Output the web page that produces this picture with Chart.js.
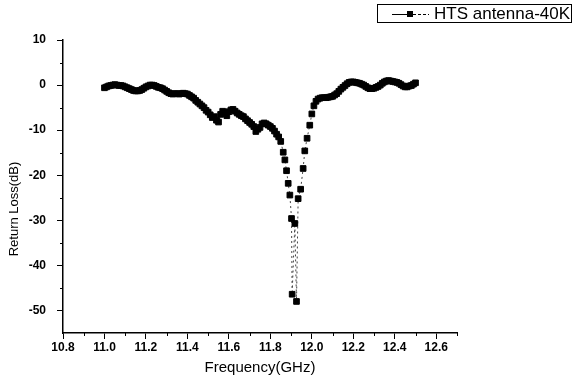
<!DOCTYPE html>
<html>
<head>
<meta charset="utf-8">
<script src="https://cdn.jsdelivr.net/npm/chart.js@4/dist/chart.umd.min.js"></script>
<style>
  body { margin: 0; background: #fff; }
  canvas { display: block; }
</style>
</head>
<body>
<canvas id="mychart" width="576" height="383"></canvas>
<script>
const freqLow = [
  11.00, 11.01, 11.02, 11.03, 11.04, 11.05, 11.06, 11.07, 11.08, 11.09,
  11.10, 11.11, 11.12, 11.13, 11.14, 11.15, 11.16, 11.17, 11.18, 11.19,
  11.20, 11.21, 11.22, 11.23, 11.24, 11.25, 11.26, 11.27, 11.28, 11.29,
  11.30, 11.31, 11.32, 11.33, 11.34, 11.35, 11.36, 11.37, 11.38, 11.39,
  11.40, 11.41, 11.42, 11.43, 11.44, 11.45, 11.46, 11.47, 11.48, 11.49,
  11.50, 11.51, 11.52, 11.53, 11.54, 11.55, 11.56, 11.57, 11.58, 11.59,
  11.60, 11.61, 11.62, 11.63, 11.64, 11.65, 11.66, 11.67, 11.68, 11.69,
  11.70, 11.71, 11.72, 11.73, 11.74, 11.75, 11.76, 11.77, 11.78, 11.79,
  11.80, 11.81, 11.82, 11.83, 11.84
];
const lossLow = [
  -0.6, -0.4, -0.2, -0.1, 0.0, 0.1, 0.0, -0.1, -0.1, -0.2,
  -0.4, -0.6, -0.8, -1.0, -1.2, -1.3, -1.3, -1.2, -1.0, -0.7,
  -0.4, -0.2, 0.0, 0.0, -0.1, -0.3, -0.5, -0.6, -0.8, -1.1,
  -1.4, -1.7, -1.9, -2.0, -1.9, -1.9, -2.0, -1.9, -1.8, -1.9,
  -2.0, -2.3, -2.6, -2.9, -3.4, -3.8, -4.2, -4.6, -5.0, -5.6,
  -6.0, -6.6, -7.2, -7.0, -7.8, -8.2, -6.5, -5.8, -6.2, -6.8,
  -5.9, -5.5, -5.4, -5.8, -6.2, -6.5, -6.8, -7.0, -7.5, -7.9,
  -8.3, -8.7, -9.2, -10.3, -9.8, -9.4, -8.6, -8.4, -8.6, -8.9,
  -9.2, -9.6, -10.2, -10.9, -11.5
];
const freqDip = [
  11.850, 11.862, 11.870, 11.878, 11.886, 11.894, 11.902, 11.905, 11.918, 11.926,
  11.934, 11.946, 11.958, 11.966, 11.977, 11.990, 12.000
];
const lossDip = [
  -12.5, -14.9, -16.6, -19.0, -21.8, -24.4, -29.6, -46.4, -30.7, -48.0,
  -25.2, -23.1, -18.5, -14.6, -11.8, -8.9, -6.4
];
const freqHigh = [
  12.01, 12.02, 12.03, 12.04, 12.05, 12.06, 12.07, 12.08, 12.09, 12.10,
  12.11, 12.12, 12.13, 12.14, 12.15, 12.16, 12.17, 12.18, 12.19, 12.20,
  12.21, 12.22, 12.23, 12.24, 12.25, 12.26, 12.27, 12.28, 12.29, 12.30,
  12.31, 12.32, 12.33, 12.34, 12.35, 12.36, 12.37, 12.38, 12.39, 12.40,
  12.41, 12.42, 12.43, 12.44, 12.45, 12.46, 12.47, 12.48, 12.49, 12.50
];
const lossHigh = [
  -4.6, -3.6, -3.1, -2.9, -2.8, -2.8, -2.8, -2.7, -2.6, -2.5,
  -2.2, -1.9, -1.4, -0.9, -0.5, -0.1, 0.3, 0.6, 0.7, 0.7,
  0.6, 0.5, 0.4, 0.2, 0.0, -0.3, -0.6, -0.8, -0.8, -0.7,
  -0.5, -0.3, 0.0, 0.4, 0.7, 0.9, 1.0, 0.9, 0.8, 0.7,
  0.6, 0.4, 0.1, -0.2, -0.4, -0.4, -0.2, -0.1, 0.2, 0.5
];
const seriesLabel = "HTS antenna-40K";
const xTicks = [10.8, 11.0, 11.2, 11.4, 11.6, 11.8, 12.0, 12.2, 12.4, 12.6];
const yTicks = [10, 0, -10, -20, -30, -40, -50];

const font = "'Liberation Sans', Arial, sans-serif";

function buildPoints() {
  let freqs = freqLow.concat(freqDip, freqHigh);
  let losses = lossLow.concat(lossDip, lossHigh);
  return freqs.map((f, i) => ({ x: f, y: losses[i] }));
}

// short unlabelled ticks between the major ones
const minorTicks = {
  id: "minorTicks",
  afterDraw(chart) {
    let ctx = chart.ctx;
    let xs = chart.scales.x;
    let ys = chart.scales.y;
    ctx.save();
    ctx.strokeStyle = "#000";
    ctx.lineWidth = 1;
    ctx.beginPath();
    for (let i = 0; i < xTicks.length; i++) {
      let v = xTicks[i] + 0.1;
      if (v > xs.max + 1e-9) continue;
      let px = Math.round(xs.getPixelForValue(v)) + 0.5;
      ctx.moveTo(px, xs.top);
      ctx.lineTo(px, xs.top + 3);
    }
    for (let i = 0; i < yTicks.length; i++) {
      let v = yTicks[i] - 5;
      if (v <= ys.min) continue;
      let py = Math.round(ys.getPixelForValue(v)) + 0.5;
      ctx.moveTo(ys.right, py);
      ctx.lineTo(ys.right - 3, py);
    }
    ctx.stroke();
    ctx.restore();
  }
};

// y axis title sits a bit below the middle of the axis in the original
const yTitle = {
  id: "yTitle",
  afterDraw(chart) {
    let ctx = chart.ctx;
    ctx.save();
    ctx.translate(14, 209);
    ctx.rotate(-Math.PI / 2);
    ctx.fillStyle = "#000";
    ctx.font = "13px " + font;
    ctx.textAlign = "center";
    ctx.textBaseline = "middle";
    ctx.fillText("Return Loss(dB)", 0, 0);
    ctx.restore();
  }
};

// boxed legend in the top right corner: —■- - label
const boxLegend = {
  id: "boxLegend",
  afterDraw(chart) {
    let ctx = chart.ctx;
    ctx.save();
    ctx.strokeStyle = "#000";
    ctx.lineWidth = 1;
    ctx.strokeRect(377.5, 4.5, 194, 18);
    ctx.beginPath();
    ctx.moveTo(392, 14.5);
    ctx.lineTo(407, 14.5);
    ctx.stroke();
    ctx.setLineDash([3, 2]);
    ctx.beginPath();
    ctx.moveTo(413, 14.5);
    ctx.lineTo(429, 14.5);
    ctx.stroke();
    ctx.setLineDash([]);
    ctx.fillStyle = "#000";
    ctx.fillRect(407, 11, 6, 6);
    ctx.font = "17px " + font;
    ctx.textBaseline = "middle";
    ctx.fillText(seriesLabel, 434, 14);
    ctx.restore();
  }
};

let ctx = document.getElementById("mychart").getContext("2d");
let myChart = new Chart(ctx, {
  type: "line",
  data: {
    datasets: [{
      label: seriesLabel,
      data: buildPoints(),
      borderColor: "#444",
      borderWidth: 1,
      borderDash: [2, 3],
      pointStyle: "rect",
      pointRadius: 4,
      pointBorderWidth: 1,
      pointBackgroundColor: "#000",
      pointBorderColor: "#000",
      tension: 0
    }]
  },
  options: {
    responsive: false,
    animation: false,
    devicePixelRatio: 1,
    layout: { padding: { top: 40, right: 119, left: 0, bottom: 0 } },
    plugins: {
      legend: { display: false },
      tooltip: { enabled: false }
    },
    scales: {
      x: {
        type: "linear",
        min: 10.8,
        max: 12.7,
        afterFit(scale) { scale.height = 50; },
        afterBuildTicks(scale) { scale.ticks = xTicks.map(v => ({ value: v })); },
        border: { display: true, color: "#000", width: 1.5 },
        grid: { drawOnChartArea: false, drawTicks: true, tickLength: 6, tickColor: "#000", tickWidth: 1 },
        ticks: {
          color: "#000",
          padding: 1,
          maxRotation: 0,
          autoSkip: false,
          font: { family: font, size: 12, weight: "bold" },
          callback: v => v.toFixed(1)
        },
        title: {
          display: true,
          text: "Frequency(GHz)",
          color: "#000",
          font: { family: font, size: 15 },
          padding: { top: 0, bottom: 6 }
        }
      },
      y: {
        min: -55,
        max: 10,
        afterFit(scale) { scale.width = 63; },
        afterBuildTicks(scale) { scale.ticks = yTicks.map(v => ({ value: v })); },
        border: { display: true, color: "#000", width: 1.5 },
        grid: { drawOnChartArea: false, drawTicks: true, tickLength: 6, tickColor: "#000", tickWidth: 1 },
        ticks: {
          color: "#000",
          padding: 11,
          autoSkip: false,
          font: { family: font, size: 12, weight: "bold" },
          callback: v => String(v)
        },
        title: { display: false }
      }
    }
  },
  plugins: [minorTicks, yTitle, boxLegend]
});
</script>
</body>
</html>
